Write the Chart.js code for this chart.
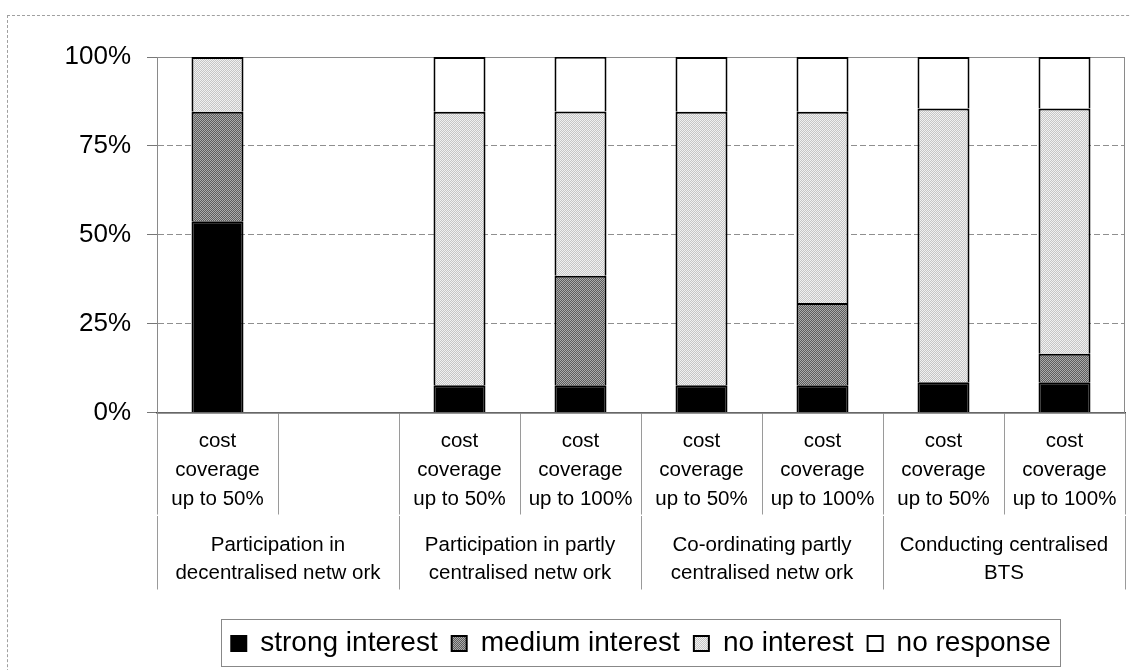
<!DOCTYPE html>
<html lang="en">
<head>
  <meta charset="UTF-8">
  <title>Interest in BTS participation by cost coverage</title>
  <script src="https://cdn.jsdelivr.net/npm/chart.js"></script>
  <style>
    body {
      margin: 0;
      background: #fff;
      overflow: hidden;
    }
    .frame {
      position: absolute;
      left: 7px;
      top: 15px;
      width: 1300px;
      height: 800px;
      border: 1px dashed #a0a0a0;
      pointer-events: none;
    }
    canvas {
      position: absolute;
      left: 0;
      top: 0;
    }
  </style>
</head>
<body>
  <div class="frame"></div>
  <canvas id="chart" width="1131" height="670"></canvas>

  <script>
    // categories (second slot of the first group is empty)
    const categories = [
      ['cost', 'coverage', 'up to 50%'],
      '',
      ['cost', 'coverage', 'up to 50%'],
      ['cost', 'coverage', 'up to 100%'],
      ['cost', 'coverage', 'up to 50%'],
      ['cost', 'coverage', 'up to 100%'],
      ['cost', 'coverage', 'up to 50%'],
      ['cost', 'coverage', 'up to 100%']
    ];
    const groups = [
      ['Participation in', 'decentralised netw ork'],
      ['Participation in partly', 'centralised netw ork'],
      ['Co-ordinating partly', 'centralised netw ork'],
      ['Conducting centralised', 'BTS']
    ];
    const yTicks = [0, 25, 50, 75, 100];

    // shares in %
    const strongInterest = [53.8, null, 7.7, 7.7, 7.7, 7.7, 8.5, 8.5];
    const mediumInterest = [30.8, null, 0, 30.8, 0, 23.1, 0, 8];
    const noInterest     = [15.4, null, 76.9, 46.2, 76.9, 53.8, 77, 69];
    const noResponse     = [0, null, 15.4, 15.4, 15.4, 15.4, 14.5, 14.5];

    // little stipple patterns to look like the printed greys
    function stipple(a, b) {
      const c = document.createElement('canvas');
      c.width = 2; c.height = 2;
      const g = c.getContext('2d');
      g.fillStyle = a;
      g.fillRect(0, 0, 2, 2);
      g.fillStyle = b;
      g.fillRect(0, 0, 1, 1);
      g.fillRect(1, 1, 1, 1);
      return g.createPattern(c, 'repeat');
    }
    const mediumFill = stipple('#5c5c5c', '#ababab');
    const lightFill = stipple('#c6c6c6', '#f1f1f1');

    const font = 'Liberation Sans, Arial, sans-serif';

    // plot frame + box around the legend
    const framePlugin = {
      id: 'frames',
      beforeDatasetsDraw(chart) {
        const a = chart.chartArea;
        const ctx = chart.ctx;
        ctx.save();
        ctx.strokeStyle = '#8a8a8a';
        ctx.lineWidth = 1;
        ctx.strokeRect(a.left + 0.5, a.top + 0.5, a.right - a.left - 1, a.bottom - a.top);
        ctx.restore();
      },
      afterDraw(chart) {
        const lg = chart.legend;
        if (!lg || !lg.legendHitBoxes.length) return;
        const boxes = lg.legendHitBoxes;
        const left = Math.min(...boxes.map(b => b.left)) - 10;
        const right = Math.max(...boxes.map(b => b.left + b.width)) + 10;
        const ctx = chart.ctx;
        ctx.save();
        ctx.strokeStyle = '#888';
        ctx.lineWidth = 1;
        ctx.strokeRect(Math.round(left) + 0.5, 619.5, Math.round(right - left), 47);
        ctx.restore();
      }
    };

    const ctx = document.getElementById('chart').getContext('2d');
    new Chart(ctx, {
      type: 'bar',
      data: {
        labels: categories,
        datasets: [
          { label: 'strong interest', data: strongInterest, backgroundColor: '#000', borderColor: '#000', borderWidth: 2 },
          { label: 'medium interest', data: mediumInterest, backgroundColor: mediumFill, borderColor: '#000', borderWidth: 2 },
          { label: 'no interest', data: noInterest, backgroundColor: lightFill, borderColor: '#000', borderWidth: 2 },
          { label: 'no response', data: noResponse, backgroundColor: '#fff', borderColor: '#000', borderWidth: 2 }
        ]
      },
      options: {
        responsive: false,
        animation: false,
        layout: {
          padding: { top: 57, right: 6, left: 0, bottom: 2.5 }
        },
        datasets: {
          bar: {
            categoryPercentage: 1,
            barPercentage: 0.43
          }
        },
        scales: {
          x: {
            stacked: true,
            offset: true,
            grid: {
              offset: true,
              drawOnChartArea: false,
              tickLength: 102,
              color: '#9a9a9a'
            },
            border: { display: true, color: '#444', width: 1.5 },
            ticks: {
              autoSkip: false,
              maxRotation: 0,
              padding: -87.5,
              color: '#000',
              font: { family: font, size: 20.5, lineHeight: '29px' }
            },
            afterFit: (scale) => { scale.height = 103; }
          },
          x2: {
            type: 'category',
            labels: groups,
            position: 'bottom',
            offset: true,
            grid: {
              offset: true,
              drawOnChartArea: false,
              tickLength: 74,
              color: '#9a9a9a'
            },
            border: { display: false },
            ticks: {
              autoSkip: false,
              maxRotation: 0,
              padding: -58,
              color: '#000',
              font: { family: font, size: 20.5, lineHeight: '28px' }
            },
            afterFit: (scale) => { scale.height = 100; }
          },
          y: {
            stacked: true,
            min: 0,
            max: 100,
            afterBuildTicks: (scale) => { scale.ticks = yTicks.map(v => ({ value: v })); },
            grid: {
              color: '#8f8f8f',
              tickLength: 10,
              tickColor: '#777'
            },
            border: { display: true, color: '#8a8a8a', width: 1, dash: [6, 3] },
            ticks: {
              padding: 16,
              color: '#000',
              font: { family: font, size: 26 },
              callback: (v) => v + '%'
            },
            afterFit: (scale) => { scale.width = 157; }
          }
        },
        plugins: {
          legend: {
            position: 'bottom',
            fullSize: false,
            labels: {
              boxWidth: 15,
              boxHeight: 15,
              padding: 14,
              color: '#000',
              font: { family: font, size: 28 }
            }
          },
          tooltip: { enabled: false }
        }
      },
      plugins: [framePlugin]
    });
  </script>
</body>
</html>
